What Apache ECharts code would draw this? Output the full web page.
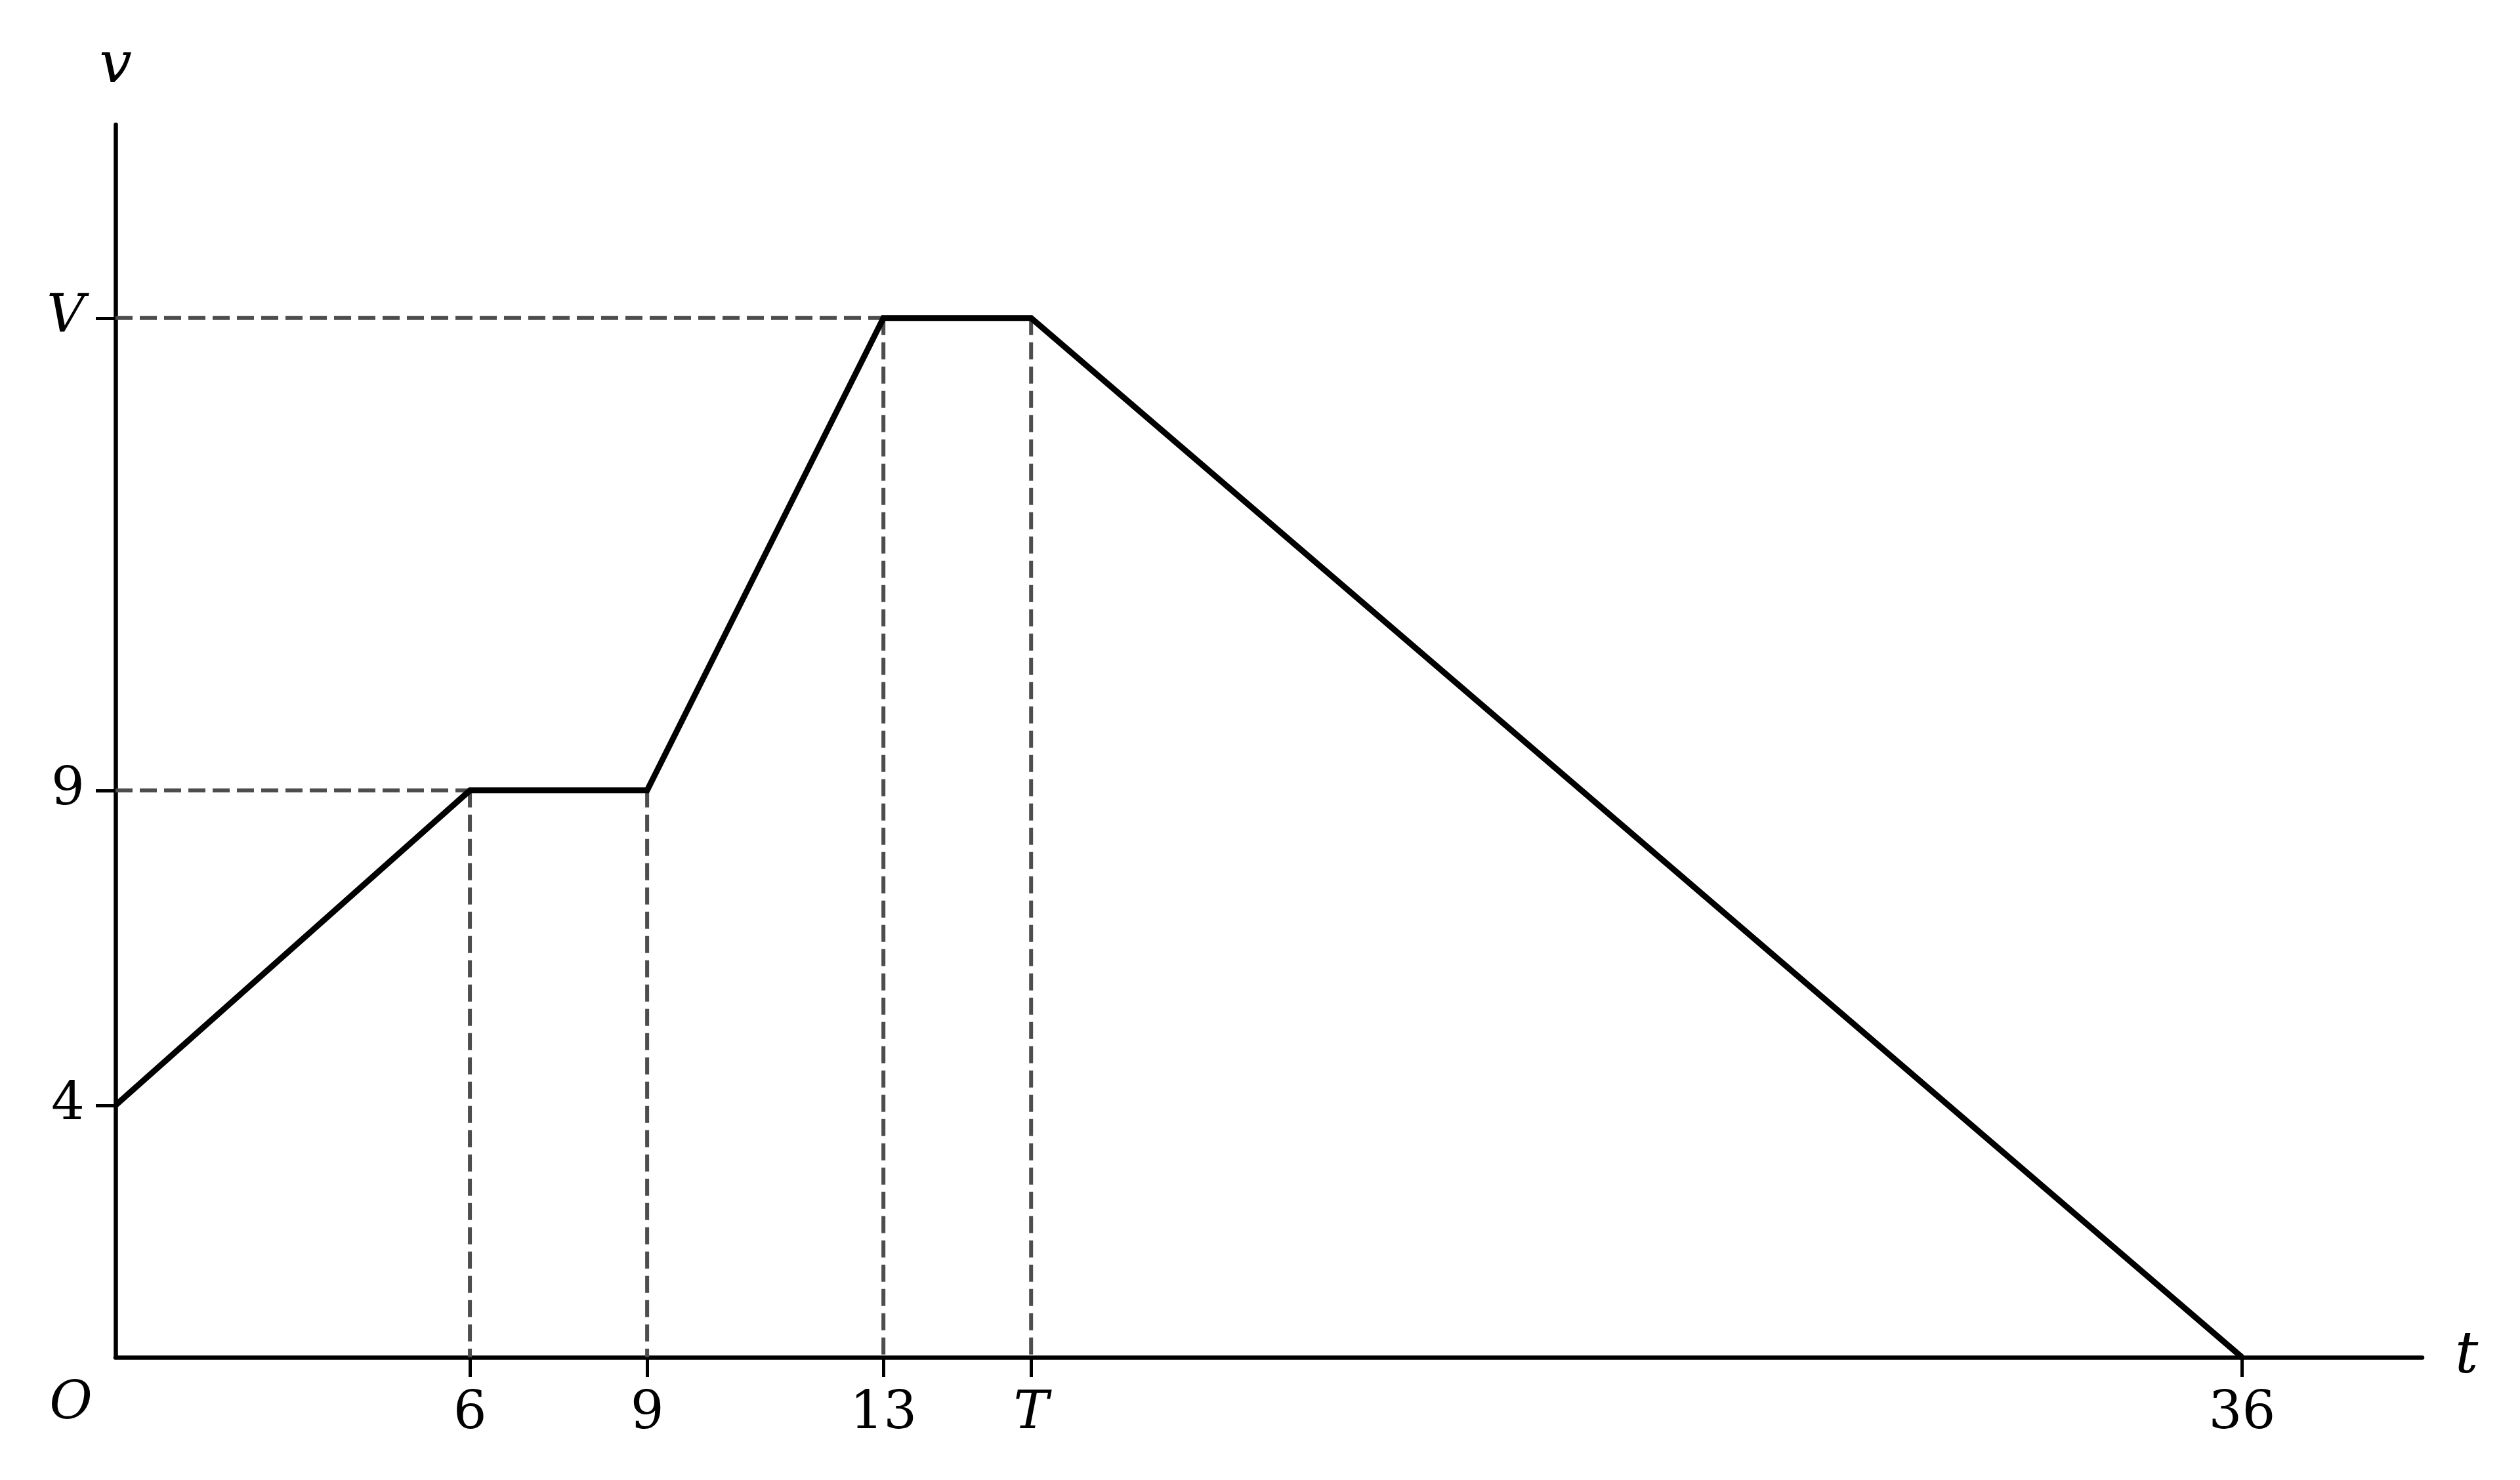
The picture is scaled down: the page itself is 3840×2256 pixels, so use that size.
<!DOCTYPE html>
<html>
<head>
<meta charset="utf-8">
<script src="https://cdn.jsdelivr.net/npm/echarts@6/dist/echarts.min.js"></script>
<style>
  html, body { margin: 0; padding: 0; background: #fff; }
  #chart { width: 3840px; height: 2256px; }
</style>
</head>
<body>
<div id="chart"></div>
<script>
// velocity-time profile, key points (T = 15.5, V = 16.5)
const tPoints = [0, 6, 9, 13, 15.5, 36];
const vPoints = [4, 9, 9, 16.5, 16.5, 0];

// tick positions and the text shown at them
const xTickValues = [6, 9, 13, 15.5, 36];
const xTickLabels = ['6', '9', '13', 'T', '36'];
const yTickValues = [4, 9, 16.5];
const yTickLabels = ['4', '9', 'V'];
const italicLabels = ['T', 'V'];

const FONT = 'DejaVu Serif';

function tickFormatter(values, labels) {
    return function (val) {
        const i = values.indexOf(val);
        if (i < 0) return '';
        const txt = labels[i];
        return italicLabels.indexOf(txt) >= 0 ? '{it|' + txt + '}' : '{n|' + txt + '}';
    };
}

const labelRich = {
    n: { fontFamily: FONT, fontSize: 80, color: '#000' },
    it: { fontFamily: FONT, fontSize: 80, fontStyle: 'italic', color: '#000' }
};

// dashed guide lines: from y axis to the first point at each level, and down from each corner
const guides = [];
[9, 16.5].forEach((lvl) => {
    const i = vPoints.indexOf(lvl);
    guides.push([[0, lvl], [tPoints[i], lvl]]);
});
for (let i = 1; i < tPoints.length - 1; i++) {
    guides.push([[tPoints[i], vPoints[i]], [tPoints[i], 0]]);
}

const series = guides.map((seg) => ({
    type: 'line',
    data: seg,
    showSymbol: false,
    silent: true,
    z: 1,
    lineStyle: { color: '#4d4d4d', width: 6, type: [26, 11] }
}));

series.push({
    type: 'line',
    data: tPoints.map((t, i) => [t, vPoints[i]]),
    showSymbol: false,
    z: 3,
    lineStyle: { color: '#000', width: 9, join: 'miter' }
});

const chart = echarts.init(document.getElementById('chart'));
chart.setOption({
    animation: false,
    backgroundColor: '#fff',
    grid: { left: 176, top: 190, right: 149, bottom: 187 },
    xAxis: {
        type: 'value',
        min: 0,
        max: 39.05,
        name: 't',
        nameLocation: 'end',
        nameGap: 50,
        nameTextStyle: { fontFamily: FONT, fontSize: 88, fontStyle: 'italic', color: '#000' },
        axisLine: { onZero: false, lineStyle: { color: '#000', width: 6.5 } },
        axisTick: { show: true, customValues: xTickValues, length: 30, lineStyle: { color: '#000', width: 5 } },
        axisLabel: { customValues: xTickValues, margin: 47, formatter: tickFormatter(xTickValues, xTickLabels), rich: labelRich },
        splitLine: { show: false }
    },
    yAxis: {
        type: 'value',
        min: 0,
        max: 19.57,
        name: 'v',
        nameLocation: 'end',
        nameGap: 44,
        nameTextStyle: { fontFamily: FONT, fontSize: 88, fontStyle: 'italic', color: '#000' },
        axisLine: { show: true, onZero: false, lineStyle: { color: '#000', width: 6.5 } },
        axisTick: { show: true, customValues: yTickValues, length: 30, lineStyle: { color: '#000', width: 5 } },
        axisLabel: { customValues: yTickValues, margin: 47, formatter: tickFormatter(yTickValues, yTickLabels), rich: labelRich },
        splitLine: { show: false }
    },
    series: series
});

// origin label, placed just below-left of the axes corner
const o = chart.convertToPixel({ gridIndex: 0 }, [0, 0]);
chart.setOption({
    graphic: [{
        type: 'text',
        x: o[0] - 68,
        y: o[1] + 72,
        style: {
            text: 'O',
            fontFamily: FONT,
            fontSize: 80,
            fontStyle: 'italic',
            fill: '#000',
            align: 'center',
            verticalAlign: 'middle'
        }
    }]
});
</script>
</body>
</html>
